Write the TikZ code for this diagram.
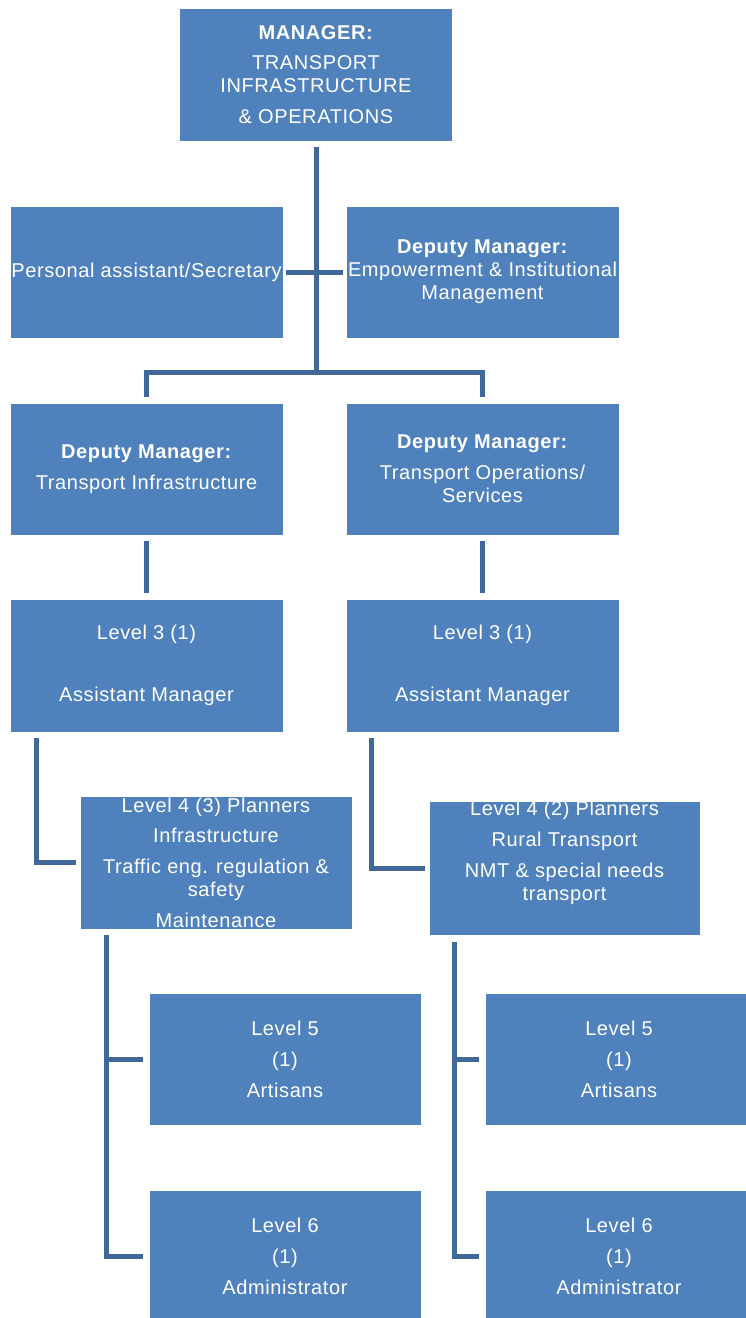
\documentclass[tikz,border=0pt]{standalone}
\usepackage{fontspec}
\setmainfont[LetterSpace=3]{Liberation Sans}
\definecolor{boxBlue}{RGB}{79,129,189}
\definecolor{lineBlue}{RGB}{64,104,153}
\tikzstyle{bS}=[rectangle,fill=boxBlue,draw=white,line width=0.8pt,minimum width=273pt,minimum height=133pt,inner sep=0pt,text=white,align=center,font=\fontsize{20}{23}\selectfont]
\tikzstyle{cS}=[line width=5pt,draw=lineBlue,shorten <=6pt,shorten >=6pt]
\tikzstyle{cX}=[line width=5pt,draw=lineBlue,shorten <=3pt,shorten >=3pt]

\begin{document}
\begin{tikzpicture}[x=1pt,y=-1pt]
                \useasboundingbox (0,0) rectangle (745,1318);
                \draw (316,74.5) node[bS] (top) {\textbf{MANAGER:}\\[7pt]TRANSPORT\\INFRASTRUCTURE\\[8pt]\& OPERATIONS};
                \draw (146.5,272) node[bS,minimum height=132pt] (pa) {Personal assistant/Secretary};
                \draw (482.5,272) node[bS,minimum height=132pt] (emp) {\textbf{Deputy Manager:}\\Empowerment \& Institutional\\Management};
                \draw (146.5,469) node[bS,minimum height=132pt] (dmti) {\textbf{Deputy Manager:}\\[8pt]Transport Infrastructure};
                \draw (482.5,469) node[bS,minimum height=132pt] (dmto) {\textbf{Deputy Manager:}\\[8pt]Transport Operations/\\Services};
                \draw (146.5,665.5) node[bS] (lvlThreeL) {Level 3 (1)\\[8pt]~\\[8pt]Assistant Manager};
                \draw (482.5,665.5) node[bS] (lvlThreeR) {Level 3 (1)\\[8pt]~\\[8pt]Assistant Manager};
                \draw (216,862.5) node[bS,minimum width=272pt] (lvlFourL) {Level 4 (3) Planners\\[7pt]Infrastructure\\[8pt]Traffic eng. regulation \&\\safety\\[8pt]Maintenance};
                \draw (564.5,868.5) node[bS,minimum width=271pt] (lvlFourR) {Level 4 (2) Planners\\[8pt]Rural Transport\\[8pt]NMT \& special needs\\transport\\[12pt]~};
                \draw (285,1059) node[bS,minimum width=272pt,minimum height=132pt] (lvlFiveL) {Level 5\\[8pt](1)\\[8pt]Artisans};
                \draw (619,1059) node[bS,minimum width=268pt,minimum height=132pt] (lvlFiveR) {Level 5\\[8pt](1)\\[8pt]Artisans};
                \draw (285,1256) node[bS,minimum width=272pt,minimum height=132pt] (lvlSixL) {Level 6\\[8pt](1)\\[8pt]Administrator};
                \draw (619,1256) node[bS,minimum width=268pt,minimum height=132pt] (lvlSixR) {Level 6\\[8pt](1)\\[8pt]Administrator};
                \coordinate (bus) at (316,372);
                %\draw (0,0) node (d) {};
                \draw[cS,shorten >=0pt] (top.south) -- (bus);
                \draw[cS] (dmti.north) |- (bus) -| (dmto.north);
                \draw[cX] (pa.east) -- (emp.west);
                \draw[cS] (dmti.south) -- (lvlThreeL.north);
                \draw[cS] (dmto.south) -- (lvlThreeR.north);
                \draw[cS,shorten >=4pt] ([xshift=27pt]lvlThreeL.south west) |- (lvlFourL.west);
                \draw[cS,shorten >=4pt] ([xshift=26pt]lvlThreeR.south west) |- (lvlFourR.west);
                \draw[cS] ([xshift=27pt]lvlFourL.south west) |- (lvlFiveL.west);
                \draw[cS] ([xshift=27pt]lvlFourL.south west) |- (lvlSixL.west);
                \draw[cS] ([xshift=26pt]lvlFourR.south west) |- (lvlFiveR.west);
                \draw[cS] ([xshift=26pt]lvlFourR.south west) |- (lvlSixR.west);
        \end{tikzpicture}
\end{document}
